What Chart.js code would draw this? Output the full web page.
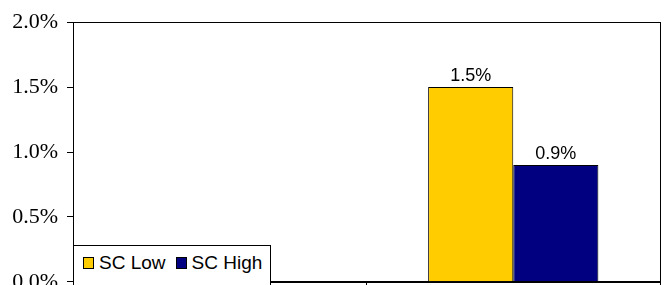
<!DOCTYPE html>
<html>
<head>
<meta charset="UTF-8" />
<script src="https://cdn.jsdelivr.net/npm/chart.js"></script>
<style>
  html, body { margin: 0; padding: 0; background: #fff; overflow: hidden; }
  #wrap { position: relative; width: 666px; height: 285px; overflow: hidden; }
  #legend {
    position: absolute; left: 73px; top: 245px; width: 198px; height: 50px;
    border: 1px solid #000; background: #fff; box-sizing: border-box;
    font-family: "Liberation Sans", Arial, sans-serif; font-size: 19px; color: #000;
    padding: 6px 0 0 9px; white-space: nowrap;
  }
  #legend span.item { display: inline-block; margin-right: 10px; }
  #legend span.box {
    display: inline-block; width: 9px; height: 10px; border: 1px solid #000;
    margin-right: 5px; vertical-align: 0px;
  }
</style>
</head>
<body>
<div id="wrap">
  <canvas id="chart" width="666" height="304"></canvas>
  <div id="legend"></div>
</div>
<script>
  // valores (em %)
  const categories = ["", ""];
  const seriesNames = ["SC Low", "SC High"];
  const scLow = [null, 1.5];
  const scHigh = [null, 0.9];
  const seriesColors = ["#FFCC00", "#000080"];
  const yTicks = [0, 0.5, 1.0, 1.5, 2.0];

  // rótulos de valor acima das barras
  const valueLabels = {
    id: "valueLabels",
    afterDatasetsDraw(chart) {
      const ctx = chart.ctx;
      ctx.save();
      ctx.font = '18px "Liberation Sans", Arial, sans-serif';
      ctx.fillStyle = "#000";
      ctx.textAlign = "center";
      ctx.textBaseline = "alphabetic";
      chart.data.datasets.forEach((ds, i) => {
        chart.getDatasetMeta(i).data.forEach((bar, j) => {
          const v = ds.data[j];
          if (v === null) return;
          ctx.fillText(v.toFixed(1) + "%", bar.x, bar.y - 6);
        });
      });
      ctx.restore();
    }
  };

  // moldura da área do gráfico
  const plotFrame = {
    id: "plotFrame",
    afterDraw(chart) {
      const a = chart.chartArea;
      const ctx = chart.ctx;
      ctx.save();
      ctx.strokeStyle = "#000";
      ctx.lineWidth = 1;
      ctx.strokeRect(Math.round(a.left) + 0.5, Math.round(a.top) + 0.5,
        Math.round(a.right - a.left), Math.round(a.bottom - a.top));
      ctx.restore();
    }
  };

  new Chart(document.getElementById("chart").getContext("2d"), {
    type: "bar",
    data: {
      labels: categories,
      datasets: [
        { label: seriesNames[0], data: scLow, backgroundColor: seriesColors[0], borderColor: "#000", borderWidth: 1 },
        { label: seriesNames[1], data: scHigh, backgroundColor: seriesColors[1], borderColor: "#000", borderWidth: 1 }
      ]
    },
    options: {
      responsive: false,
      animation: false,
      layout: { padding: { top: 20, right: 6, left: 0, bottom: 0 } },
      datasets: { bar: { categoryPercentage: 0.58, barPercentage: 1.0 } },
      plugins: { legend: { display: false }, tooltip: { enabled: false } },
      scales: {
        x: {
          afterFit: (s) => { s.height = 19; },
          grid: { drawOnChartArea: false, tickLength: 5, color: "#000", offset: true },
          border: { color: "#000" },
          ticks: { display: false }
        },
        y: {
          min: 0,
          max: 2.0,
          afterFit: (s) => { s.width = 73; },
          afterBuildTicks: (s) => { s.ticks = yTicks.map((v) => ({ value: v })); },
          grid: { drawOnChartArea: false, tickLength: 6, color: "#000" },
          border: { color: "#000" },
          ticks: {
            color: "#000",
            padding: 9,
            font: { family: '"Liberation Serif", "Times New Roman", serif', size: 22 },
            callback: (v) => Number(v).toFixed(1) + "%"
          }
        }
      }
    },
    plugins: [valueLabels, plotFrame]
  });

  // legenda dentro da área do gráfico
  document.getElementById("legend").innerHTML = seriesNames.map((n, i) =>
    '<span class="item"><span class="box" style="background:' + seriesColors[i] + '"></span>' + n + "</span>"
  ).join("");
</script>
</body>
</html>
